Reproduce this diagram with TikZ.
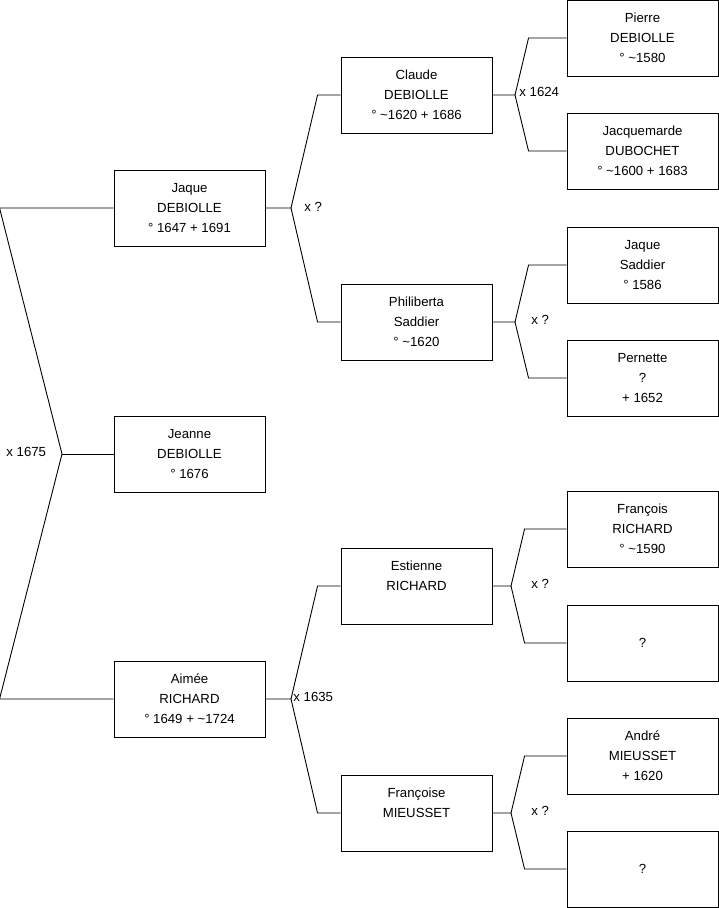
\documentclass[tikz,border=0pt]{standalone}
\usepackage{fontspec}
\setmainfont{Liberation Sans}
\usetikzlibrary{positioning}

\begin{document}
\begin{tikzpicture}[x=1pt, y=-1pt, line width=0.9pt,
    personne/.style={draw, minimum width=151pt, minimum height=76pt, align=center,
                     inner sep=0pt, font=\fontsize{13.2}{20}\selectfont},
    mariage/.style={anchor=west, inner sep=0pt, font=\fontsize{13.2}{15}\selectfont}]
                \useasboundingbox (0,0) rectangle (719,908);

                % Génération 1
                \node[personne] (jaque) at (189.5,208) {Jaque\\DEBIOLLE\\° 1647 + 1691};
                \node[personne] (jeanne) at (189.5,454) {Jeanne\\DEBIOLLE\\° 1676};
                \node[personne] (aimee) at (189.5,699) {Aimée\\RICHARD\\° 1649 + \textasciitilde1724};

                % Génération 2
                \node[personne] (claude) at (416.5,95) {Claude\\DEBIOLLE\\° \textasciitilde1620 + 1686};
                \node[personne] (philiberta) at (416.5,322) {Philiberta\\Saddier\\° \textasciitilde1620};
                \node[personne] (estienne) at (416.5,586) {Estienne\\RICHARD\\\mbox{}};
                \node[personne] (francoise) at (416.5,813) {Françoise\\MIEUSSET\\\mbox{}};

                % Génération 3
                \node[personne] (pierre) at (642.5,38) {Pierre\\DEBIOLLE\\° \textasciitilde1580};
                \node[personne] (jacquemarde) at (642.5,151) {Jacquemarde\\DUBOCHET\\° \textasciitilde1600 + 1683};
                \node[personne] (jaqueS) at (642.5,265) {Jaque\\Saddier\\° 1586};
                \node[personne] (pernette) at (642.5,378) {Pernette\\?\\+ 1652};
                \node[personne] (francois) at (642.5,529) {François\\RICHARD\\° \textasciitilde1590};
                \node[personne] (inconnue1) at (642.5,643) {?};
                \node[personne] (andre) at (642.5,756) {André\\MIEUSSET\\+ 1620};
                \node[personne] (inconnue2) at (642.5,869) {?};

                % Couple Jaque x Aimée
                \coordinate (r) at (62,454);
                \draw (jaque.west) -- ++(-114,0) -- (r) -- ([xshift=-114pt]aimee.west) -- (aimee.west);
                \draw (r) -- (jeanne.west);
                \node[mariage] (m1) at (6,452) {x 1675};

                % Parents de Jaque
                \coordinate (fa) at (291,208);
                \draw (jaque.east) -- (fa) -- ([xshift=-23pt]claude.west) -- (claude.west);
                \draw (fa) -- ([xshift=-23pt]philiberta.west) -- (philiberta.west);
                \node[mariage] (m2) at (304,207) {x ?};

                % Parents de Claude
                \coordinate (fb) at (515,95);
                \draw (claude.east) -- (fb) -- ([xshift=-38pt]pierre.west) -- (pierre.west);
                \draw (fb) -- ([xshift=-38pt]jacquemarde.west) -- (jacquemarde.west);
                \node[mariage] (m3) at (519,92) {x 1624};

                % Parents de Philiberta
                \coordinate (fc) at (515,322);
                \draw (philiberta.east) -- (fc) -- ([xshift=-38pt]jaqueS.west) -- (jaqueS.west);
                \draw (fc) -- ([xshift=-38pt]pernette.west) -- (pernette.west);
                \node[mariage] (m4) at (531,320) {x ?};

                % Parents de Aimée
                \coordinate (fd) at (291,699);
                \draw (aimee.east) -- (fd) -- ([xshift=-23pt]estienne.west) -- (estienne.west);
                \draw (fd) -- ([xshift=-23pt]francoise.west) -- (francoise.west);
                \node[mariage] (m5) at (293,697) {x 1635};

                % Parents de Estienne
                \coordinate (fe) at (511,586);
                \draw (estienne.east) -- (fe) -- ([xshift=-42pt]francois.west) -- (francois.west);
                \draw (fe) -- ([xshift=-42pt]inconnue1.west) -- (inconnue1.west);
                \node[mariage] (m6) at (531,584) {x ?};

                % Parents de Françoise
                \coordinate (ff) at (511,813);
                \draw (francoise.east) -- (ff) -- ([xshift=-42pt]andre.west) -- (andre.west);
                \draw (ff) -- ([xshift=-42pt]inconnue2.west) -- (inconnue2.west);
                \node[mariage] (m7) at (531,811) {x ?};
\end{tikzpicture}
\end{document}
